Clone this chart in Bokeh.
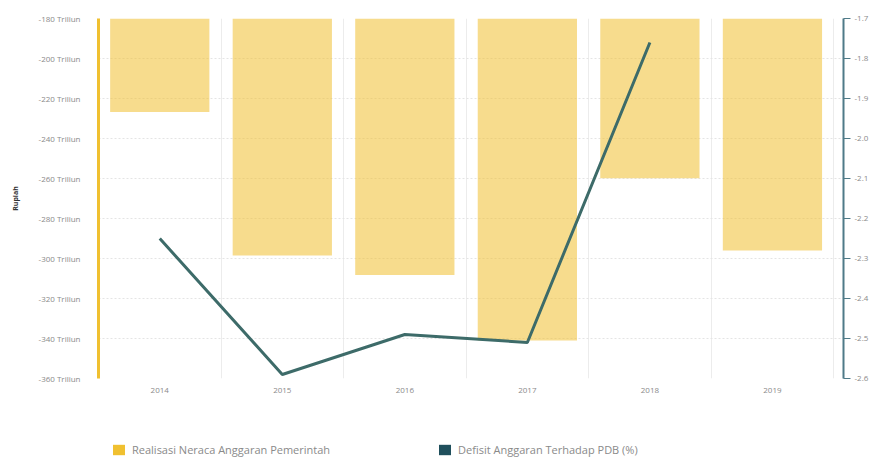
from bokeh.plotting import figure
from bokeh.layouts import column
from bokeh.models import (Range1d, LinearAxis, FixedTicker, PrintfTickFormatter,
                          ColumnDataSource, Legend, LegendItem)
from bokeh.embed import file_html
from bokeh.resources import INLINE

years = ["2014", "2015", "2016", "2017", "2018", "2019"]
realisasi = [-226.7, -298.5, -308.3, -341.0, -259.9, -296.0]   # Triliun Rupiah
defisit = [-2.25, -2.59, -2.49, -2.51, -1.76, None]             # % of PDB
left_ticks = [-360, -340, -320, -300, -280, -260, -240, -220, -200, -180]
right_ticks = [-2.6, -2.5, -2.4, -2.3, -2.2, -2.1, -2.0, -1.9, -1.8, -1.7]
bar_base = -180
legend_labels = ["Realisasi Neraca Anggaran Pemerintah", "Defisit Anggaran Terhadap PDB (%)"]

FONT = "Open Sans"
xs = [i + 0.5 for i in range(len(years))]

p = figure(frame_width=745, frame_height=360, output_backend="svg", toolbar_location=None,
           x_range=Range1d(0, len(years) + 0.08), y_range=Range1d(-360, -180),
           min_border_left=98, min_border_right=38, min_border_top=18, min_border_bottom=62)
p.outline_line_color = None
p.background_fill_color = "white"
p.border_fill_color = "white"

p.extra_y_ranges = {"pct": Range1d(-2.6, -1.7)}

src = ColumnDataSource(dict(x=xs, top=[bar_base] * len(years), bottom=realisasi,
                            pct=[d if d is not None else float("nan") for d in defisit]))

p.vbar(x="x", top="top", bottom="bottom", width=0.81, source=src,
       fill_color="#f0c030", fill_alpha=0.55, line_color=None)
p.line(x="x", y="pct", source=src, y_range_name="pct", line_color="#3d6b69", line_width=3)

# grids
p.ygrid.ticker = FixedTicker(ticks=left_ticks)
p.ygrid.grid_line_color = "#e4e4e4"
p.ygrid.grid_line_dash = "2 2"
p.xgrid.ticker = FixedTicker(ticks=list(range(1, len(years) + 1)))
p.xgrid.grid_line_color = "#ececec"

# x axis
xa = p.xaxis[0]
xa.ticker = FixedTicker(ticks=xs)
xa.major_label_overrides = {x: y for x, y in zip(xs, years)}
xa.axis_line_color = None
xa.major_tick_line_color = None
xa.minor_tick_line_color = None
xa.major_label_text_font = FONT
xa.major_label_text_font_size = "8px"
xa.major_label_text_color = "#8a8a8a"
xa.major_label_standoff = 3

# left axis
ya = p.yaxis[0]
ya.ticker = FixedTicker(ticks=left_ticks)
ya.formatter = PrintfTickFormatter(format="%d Triliun")
ya.axis_line_color = "#f0c030"
ya.axis_line_width = 3
ya.major_tick_line_color = None
ya.minor_tick_line_color = None
ya.major_label_text_font = FONT
ya.major_label_text_font_size = "8px"
ya.major_label_text_color = "#8a8a8a"
ya.major_label_standoff = 12
ya.axis_label = "Rupiah"
ya.axis_label_text_font = FONT
ya.axis_label_text_font_size = "7px"
ya.axis_label_text_font_style = "bold"
ya.axis_label_text_color = "#333333"
ya.axis_label_standoff = 16

# right axis
ra = LinearAxis(y_range_name="pct", ticker=FixedTicker(ticks=right_ticks),
                formatter=PrintfTickFormatter(format="%.1f"))
ra.axis_line_color = "#4f7a88"
ra.axis_line_width = 2
ra.major_tick_line_color = "#4f7a88"
ra.major_tick_out = 7
ra.major_tick_in = 0
ra.minor_tick_line_color = None
ra.major_label_text_font = FONT
ra.major_label_text_font_size = "8px"
ra.major_label_text_color = "#8a8a8a"
ra.major_label_standoff = 4
p.add_layout(ra, "right")

# legend strip below the chart
lg = figure(width=881, height=17, output_backend="svg", toolbar_location=None,
            x_range=Range1d(0, 1), y_range=Range1d(0, 1),
            x_axis_location=None, y_axis_location=None,
            min_border_left=0, min_border_right=0, min_border_top=0, min_border_bottom=0)
lg.outline_line_color = None
lg.xgrid.visible = False
lg.ygrid.visible = False
# zero-height bars (invisible); used only as legend colour swatches
sw1 = lg.vbar(x="x", top="top", bottom="top", width=0.01, source=src,
              fill_color="#f0c030", line_color=None)
sw2 = lg.vbar(x="x", top="top", bottom="top", width=0.01, source=src,
              fill_color="#1f4f5c", line_color=None)
legend = Legend(items=[LegendItem(label=legend_labels[0], renderers=[sw1]),
                       LegendItem(label=legend_labels[1], renderers=[sw2])],
                orientation="horizontal", location=(13, 0),
                glyph_width=15, glyph_height=13, label_standoff=6, spacing=107,
                padding=2, margin=0, border_line_color=None, background_fill_alpha=0,
                label_text_font=FONT, label_text_font_size="11px", label_text_color="#8a8a8a")
lg.add_layout(legend, "center")

layout = column(p, lg, spacing=0)
open("out.html", "w").write(file_html(layout, INLINE))
